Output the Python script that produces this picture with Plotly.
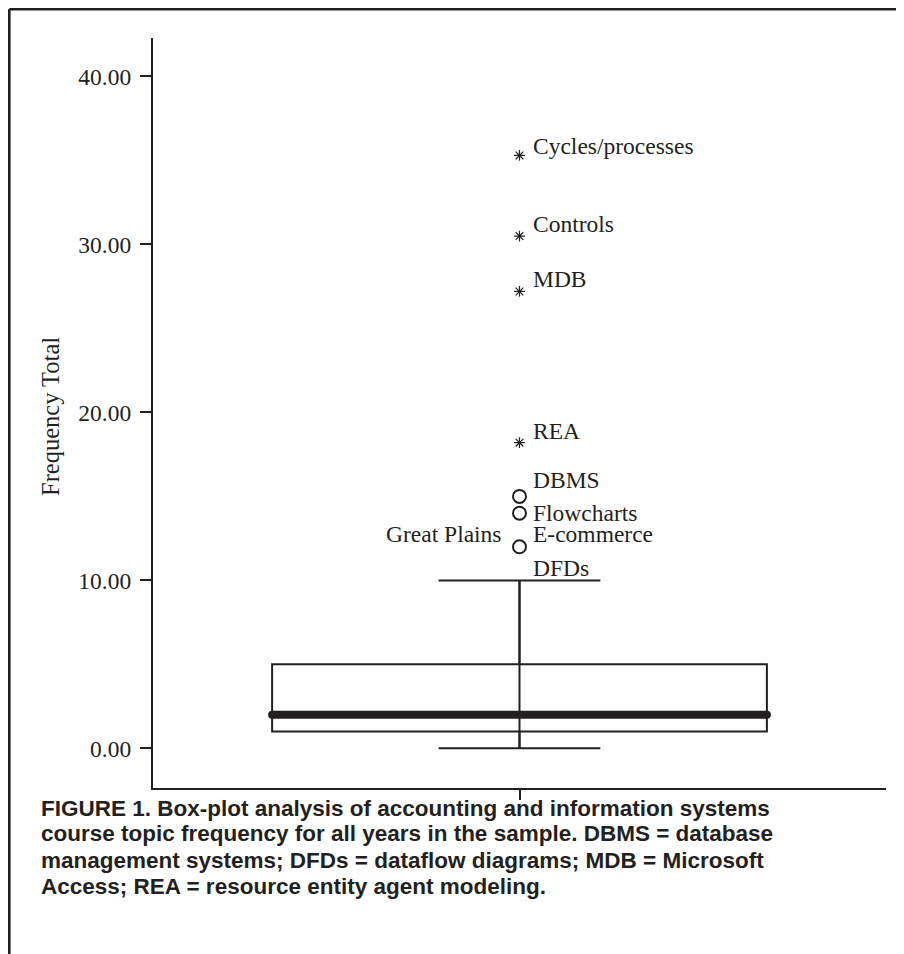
import plotly.graph_objects as go

# ---- data ----
box_q1 = [1.0]
box_median = [2.0]
box_q3 = [5.0]
box_lower = [0.0]
box_upper = [10.0]

extreme_labels = ["Cycles/processes", "Controls", "MDB", "REA"]
extreme_values = [35.3, 30.5, 27.2, 18.2]

outlier_values = [15.0, 14.0, 12.0]
outlier_point_labels = [["DBMS"], ["Flowcharts"], ["E-commerce", "Great Plains", "DFDs"]]

y_ticks = [0, 10, 20, 30, 40]
y_ticktext = ["0.00", "10.00", "20.00", "30.00", "40.00"]

caption_lines = [
    "FIGURE 1. Box-plot analysis of accounting and information systems",
    "course topic frequency for all years in the sample. DBMS = database",
    "management systems; DFDs = dataflow diagrams; MDB = Microsoft",
    "Access; REA = resource entity agent modeling.",
]

# ---- style ----
INK = "#231f20"
SERIF = "Liberation Serif, Times New Roman, serif"
SANS = "Liberation Sans, Arial, sans-serif"
OFF = 8  # page body margin
W, H = 904 - OFF, 954 - OFF
L, R, T, B = 153 - OFF, 18, 38 - OFF, 166
PW, PH = W - L - R, H - T - B
BOX_W = 0.675

def px_x(p):  # page pixel -> paper x
    return (p - OFF - L) / PW

def px_y(p):  # page pixel -> paper y
    return (H - B - (p - OFF)) / PH

fig = go.Figure()

fig.add_trace(go.Box(
    x=[0], q1=box_q1, median=box_median, q3=box_q3,
    lowerfence=box_lower, upperfence=box_upper,
    width=BOX_W, whiskerwidth=0.327,
    line=dict(color=INK, width=2), fillcolor="rgba(0,0,0,0)",
    boxpoints=False, showlegend=False, hoverinfo="skip",
))

# whisker line running through the box
fig.add_trace(go.Scatter(
    x=[0, 0], y=[box_lower[0], box_upper[0]], mode="lines",
    line=dict(color=INK, width=2), showlegend=False, hoverinfo="skip",
))

# thick median line with rounded ends
fig.add_trace(go.Scatter(
    x=[-BOX_W / 2, BOX_W / 2], y=[box_median[0], box_median[0]],
    mode="lines+markers", line=dict(color=INK, width=8),
    marker=dict(color=INK, size=8), showlegend=False, hoverinfo="skip",
))

# extremes (asterisks)
fig.add_trace(go.Scatter(
    x=[0] * len(extreme_values), y=extreme_values, mode="markers",
    marker=dict(symbol="asterisk-open", size=9, color=INK, line=dict(color=INK, width=1.2)),
    showlegend=False, hoverinfo="skip",
))

# outliers (circles)
fig.add_trace(go.Scatter(
    x=[0] * len(outlier_values), y=outlier_values, mode="markers",
    marker=dict(symbol="circle-open", size=13, color=INK, line=dict(color=INK, width=2)),
    showlegend=False, hoverinfo="skip",
))

lab_font = dict(family=SERIF, size=23.5, color=INK)
ext_shift = [9, 12, 12, 12]
for name, val, ys in zip(extreme_labels, extreme_values, ext_shift):
    fig.add_annotation(x=0, y=val, text=name, showarrow=False, xanchor="left",
                       yanchor="middle", xshift=11, yshift=ys, font=lab_font)

# circle labels: (side, yshift)
circle_offsets = [[("left", 16)], [("left", 0)], [("left", 13), ("right", 13), ("left", -21)]]
for val, names, offs in zip(outlier_values, outlier_point_labels, circle_offsets):
    for name, (side, ys) in zip(names, offs):
        if side == "left":
            fig.add_annotation(x=0, y=val, text=name, showarrow=False, xanchor="left",
                               yanchor="middle", xshift=11, yshift=ys, font=lab_font)
        else:
            fig.add_annotation(x=0, y=val, text=name, showarrow=False, xanchor="right",
                               yanchor="middle", xshift=-16, yshift=ys, font=lab_font)

# y axis title
fig.add_annotation(xref="paper", yref="paper", x=px_x(50), y=px_y(417),
                   text="Frequency Total", textangle=-90, showarrow=False,
                   xanchor="center", yanchor="middle",
                   font=dict(family=SERIF, size=24.5, color=INK))

# caption
for i, line in enumerate(caption_lines):
    fig.add_annotation(xref="paper", yref="paper", x=px_x(39), y=px_y(808 + 26 * i),
                       text="<b>" + line + "</b>", showarrow=False,
                       xanchor="left", yanchor="middle",
                       font=dict(family=SANS, size=22.5, color=INK))

# frame
fx, fy = px_x(9.3), px_y(9.3)
fig.add_shape(type="line", xref="paper", yref="paper", x0=fx, x1=px_x(W + 30), y0=fy, y1=fy,
              line=dict(color=INK, width=2.6))
fig.add_shape(type="line", xref="paper", yref="paper", x0=fx, x1=fx, y0=fy, y1=px_y(H + 30),
              line=dict(color=INK, width=2.6))

fig.update_layout(
    width=W, height=H,
    margin=dict(l=L, r=R, t=T, b=B, pad=0),
    paper_bgcolor="white", plot_bgcolor="white",
    showlegend=False,
    xaxis=dict(range=[-0.5, 0.5], showgrid=False, zeroline=False, showline=True,
               linecolor=INK, linewidth=2.3, ticks="outside", ticklen=10, tickwidth=2,
               tickcolor=INK, tickvals=[0], ticktext=[""], fixedrange=True),
    yaxis=dict(range=[-2.36, 42.29], showgrid=False, zeroline=False, showline=True,
               linecolor=INK, linewidth=2.3, ticks="outside", ticklen=11, tickwidth=2.3,
               tickcolor=INK, tickvals=y_ticks, ticktext=y_ticktext,
               tickfont=dict(family=SERIF, size=23.5, color=INK),
               ticklabelstandoff=4, fixedrange=True),
)

fig.write_html("out.html")
